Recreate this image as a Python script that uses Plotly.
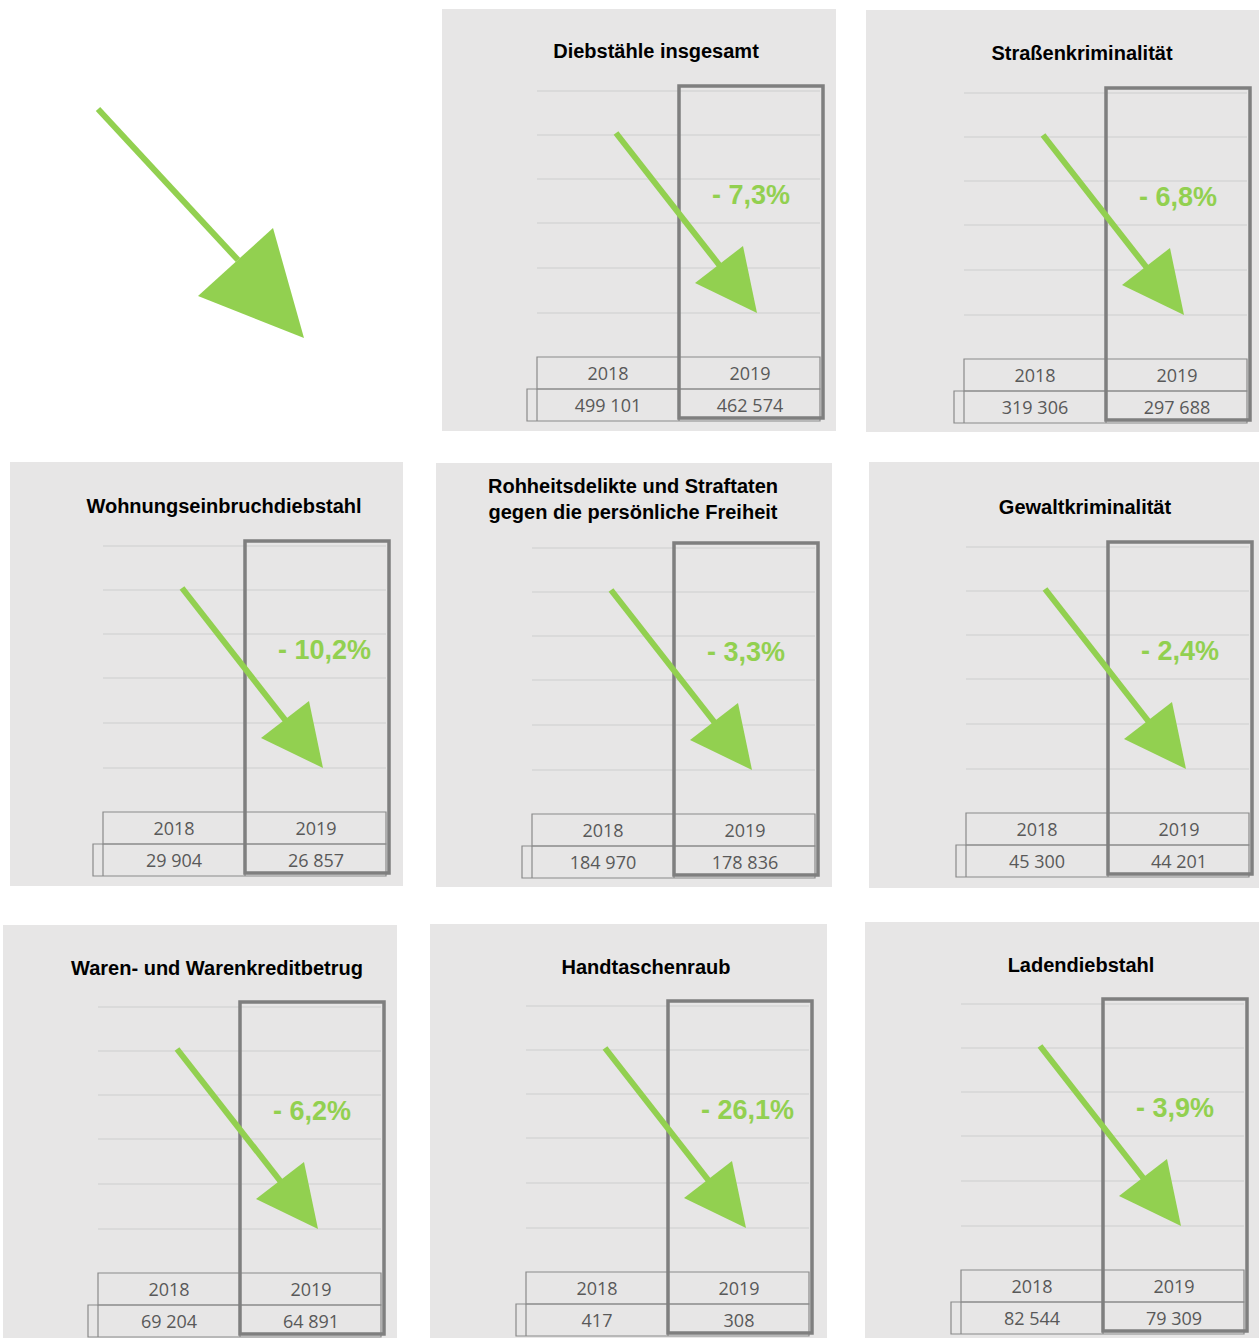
import plotly.graph_objects as go

# ---------------- data ----------------
categories = [
    "Diebstähle insgesamt",
    "Straßenkriminalität",
    "Wohnungseinbruchdiebstahl",
    "Rohheitsdelikte und Straftaten<br>gegen die persönliche Freiheit",
    "Gewaltkriminalität",
    "Waren- und Warenkreditbetrug",
    "Handtaschenraub",
    "Ladendiebstahl",
]
years = ["2018", "2019"]
values_2018 = [499101, 319306, 29904, 184970, 45300, 69204, 417, 82544]
values_2019 = [462574, 297688, 26857, 178836, 44201, 64891, 308, 79309]
change_labels = ["- 7,3%", "- 6,8%", "- 10,2%", "- 3,3%", "- 2,4%", "- 6,2%", "- 26,1%", "- 3,9%"]

# ---------------- layout geometry (pixels) ----------------
W, H = 1259, 1338
# panel background boxes (x0, y0, x1, y1)
panel_bg = [
    (442, 9, 836, 431),
    (866, 10, 1259, 432),
    (10, 462, 403, 886),
    (436, 463, 832, 887),
    (869, 462, 1259, 888),
    (3, 925, 397, 1338),
    (430, 924, 827, 1338),
    (865, 922, 1259, 1338),
]
# top-left anchor of the bold 2019 frame
anchor = [
    (679, 86), (1106, 88), (245, 541), (674, 543),
    (1108, 542), (240, 1002), (668, 1001), (1103, 999),
]
# title centre positions
title_pos = [
    (656, 53), (1082, 55), (224, 508), (633, 501),
    (1085, 509), (217, 970), (646, 969), (1081, 967),
]

GREEN = "#92d050"
BG = "#e7e6e6"
GRID = "#d6d6d6"
TBL = "#8a8a8a"
FRAME = "#7f7f7f"
TXT = "#595959"

fmt = lambda v: f"{v:,}".replace(",", " ")

shapes = []
# big arrow (top-left)
shapes.append(dict(type="line", x0=98, y0=109, x1=238, y1=260,
                   line=dict(color=GREEN, width=6), layer="above"))
shapes.append(dict(type="path", path="M 273 228 L 198 296 L 304 338 Z",
                   fillcolor=GREEN, line=dict(width=0), layer="above"))

tx, ty, tt = [], [], []          # titles
yx, yy, yt = [], [], []          # table text
px, py, pt = [], [], []          # percent labels

for i, (x0, y0, x1, y1) in enumerate(panel_bg):
    bx, by = anchor[i]
    shapes.append(dict(type="rect", x0=x0, y0=y0, x1=x1, y1=y1,
                       fillcolor=BG, line=dict(width=0), layer="below"))
    # gridlines
    for g in [5, 49, 93, 137, 182, 227]:
        shapes.append(dict(type="line", x0=bx - 142, x1=bx + 141, y0=by + g, y1=by + g,
                           line=dict(color=GRID, width=1.5), layer="below"))
    # table
    t0, t1, t2 = by + 271, by + 303, by + 335
    shapes.append(dict(type="rect", x0=bx - 142, x1=bx + 141, y0=t0, y1=t1,
                       line=dict(color=TBL, width=1.2), fillcolor="rgba(0,0,0,0)", layer="below"))
    shapes.append(dict(type="rect", x0=bx - 152, x1=bx + 141, y0=t1, y1=t2,
                       line=dict(color=TBL, width=1.2), fillcolor="rgba(0,0,0,0)", layer="below"))
    shapes.append(dict(type="line", x0=bx - 142, x1=bx - 142, y0=t1, y1=t2,
                       line=dict(color=TBL, width=1.2), layer="below"))
    shapes.append(dict(type="line", x0=bx, x1=bx, y0=t0, y1=t2,
                       line=dict(color=TBL, width=1.2), layer="below"))
    # bold frame around 2019 column
    shapes.append(dict(type="rect", x0=bx, x1=bx + 144, y0=by, y1=by + 332,
                       line=dict(color=FRAME, width=3.5), fillcolor="rgba(0,0,0,0)", layer="above"))
    # arrow
    shapes.append(dict(type="line", x0=bx - 63, y0=by + 47, x1=bx + 41, y1=by + 180,
                       line=dict(color=GREEN, width=6), layer="above"))
    shapes.append(dict(type="path",
                       path=f"M {bx+64} {by+160} L {bx+16} {by+197} L {bx+78} {by+227} Z",
                       fillcolor=GREEN, line=dict(width=0), layer="above"))
    # texts
    tx.append(title_pos[i][0]); ty.append(title_pos[i][1]); tt.append(categories[i])
    for j, (yr, val) in enumerate(zip(years, [values_2018[i], values_2019[i]])):
        cx = bx - 71 if j == 0 else bx + 71
        yx += [cx, cx]; yy += [by + 289, by + 321]; yt += [yr, fmt(val)]
    px.append(bx + 33); py.append(by + 111); pt.append(change_labels[i])

fig = go.Figure()
fig.add_trace(go.Scatter(x=tx, y=ty, text=tt, mode="text", hoverinfo="skip",
                         textfont=dict(family="Liberation Sans, Arial", size=20, color="#000000",
                                       weight="bold")))
fig.add_trace(go.Scatter(x=yx, y=yy, text=yt, mode="text", hoverinfo="skip",
                         textfont=dict(family="Open Sans", size=18, color=TXT)))
fig.add_trace(go.Scatter(x=px, y=py, text=pt, mode="text", textposition="middle right",
                         hoverinfo="skip",
                         textfont=dict(family="Liberation Sans, Arial", size=27, color=GREEN,
                                       weight="bold")))

fig.update_layout(
    width=W, height=H, margin=dict(l=0, r=0, t=0, b=0),
    paper_bgcolor="white", plot_bgcolor="white", showlegend=False,
    xaxis=dict(range=[0, W], visible=False, fixedrange=True),
    yaxis=dict(range=[H, 0], visible=False, fixedrange=True),
    shapes=shapes,
)
fig.write_html("out.html")
